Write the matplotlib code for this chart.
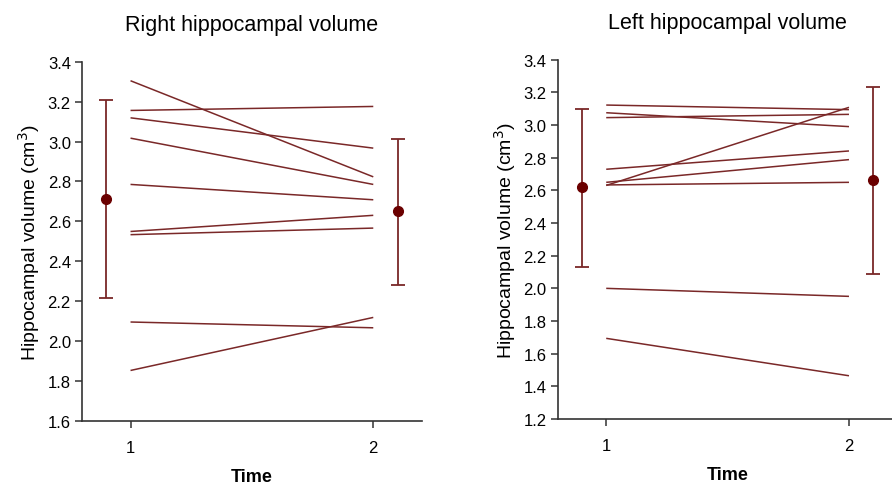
import matplotlib
matplotlib.use("Agg")
import matplotlib.pyplot as plt
import numpy as np

plt.rcParams["font.family"] = ["Liberation Sans", "DejaVu Sans"]

# time points
time_pts = [1, 2]
mean_x = [0.9, 2.1]

# right hippocampal volume, one pair per subject (time 1, time 2)
right_t1 = [3.305, 3.156, 3.119, 3.017, 2.785, 2.549, 2.533, 2.095, 1.852]
right_t2 = [2.823, 3.176, 2.967, 2.785, 2.708, 2.630, 2.566, 2.066, 2.118]
right_mean = [2.711, 2.651]
right_lo = [2.213, 2.282]
right_hi = [3.208, 3.011]

# left hippocampal volume
left_t1 = [3.122, 3.075, 3.045, 2.630, 2.729, 2.649, 2.633, 2.000, 1.694]
left_t2 = [3.094, 2.990, 3.065, 3.108, 2.841, 2.788, 2.649, 1.951, 1.465]
left_mean = [2.622, 2.665]
left_lo = [2.133, 2.088]
left_hi = [3.100, 3.231]

LINE_C = "#7a2828"
MEAN_C = "#6b0000"

fig = plt.figure(figsize=(8.92, 4.89), dpi=100)
ax_r = fig.add_axes([0.0919, 0.1376, 0.381, 0.734])
ax_l = fig.add_axes([0.6252, 0.1410, 0.381, 0.735])

panels = [
    (ax_r, "Right hippocampal volume", right_t1, right_t2, right_mean, right_lo, right_hi,
     (1.6, 3.4)),
    (ax_l, "Left hippocampal volume", left_t1, left_t2, left_mean, left_lo, left_hi,
     (1.2, 3.4)),
]

for ax, title, t1, t2, mean, lo, hi, ylim in panels:
    for a, b in zip(t1, t2):
        ax.plot(time_pts, [a, b], color=LINE_C, lw=1.1, solid_capstyle="butt")
    mean = np.array(mean)
    err = [mean - np.array(lo), np.array(hi) - mean]
    ax.errorbar(mean_x, mean, yerr=err, fmt="o", color=MEAN_C, ecolor=LINE_C,
                elinewidth=1.3, capsize=5, capthick=1.3, markersize=7)

    ax.set_xlim(0.8, 2.2)
    ax.set_ylim(*ylim)
    ticks = np.arange(ylim[0], ylim[1] + 0.001, 0.2)
    ax.set_yticks(ticks)
    ax.set_yticklabels([f"{v:.1f}" for v in ticks])
    ax.set_xticks(time_pts)
    ax.set_xticklabels(["1", "2"])
    for s in ("top", "right"):
        ax.spines[s].set_visible(False)
    for s in ("left", "bottom"):
        ax.spines[s].set_color("#333333")
        ax.spines[s].set_linewidth(1.2)
    ax.tick_params(axis="both", labelsize=12, color="#333333", length=5, width=1.1,
                   direction="out", pad=3)
    ax.tick_params(axis="x", pad=9)
    ax.set_title(title, fontsize=15.5, pad=23)
    ax.set_ylabel("Hippocampal volume (cm$^3$)", fontsize=14, labelpad=4)
    ax.set_xlabel("Time", fontsize=13, fontweight="bold", labelpad=9)

fig.savefig("out.png", dpi=100, facecolor="white")
